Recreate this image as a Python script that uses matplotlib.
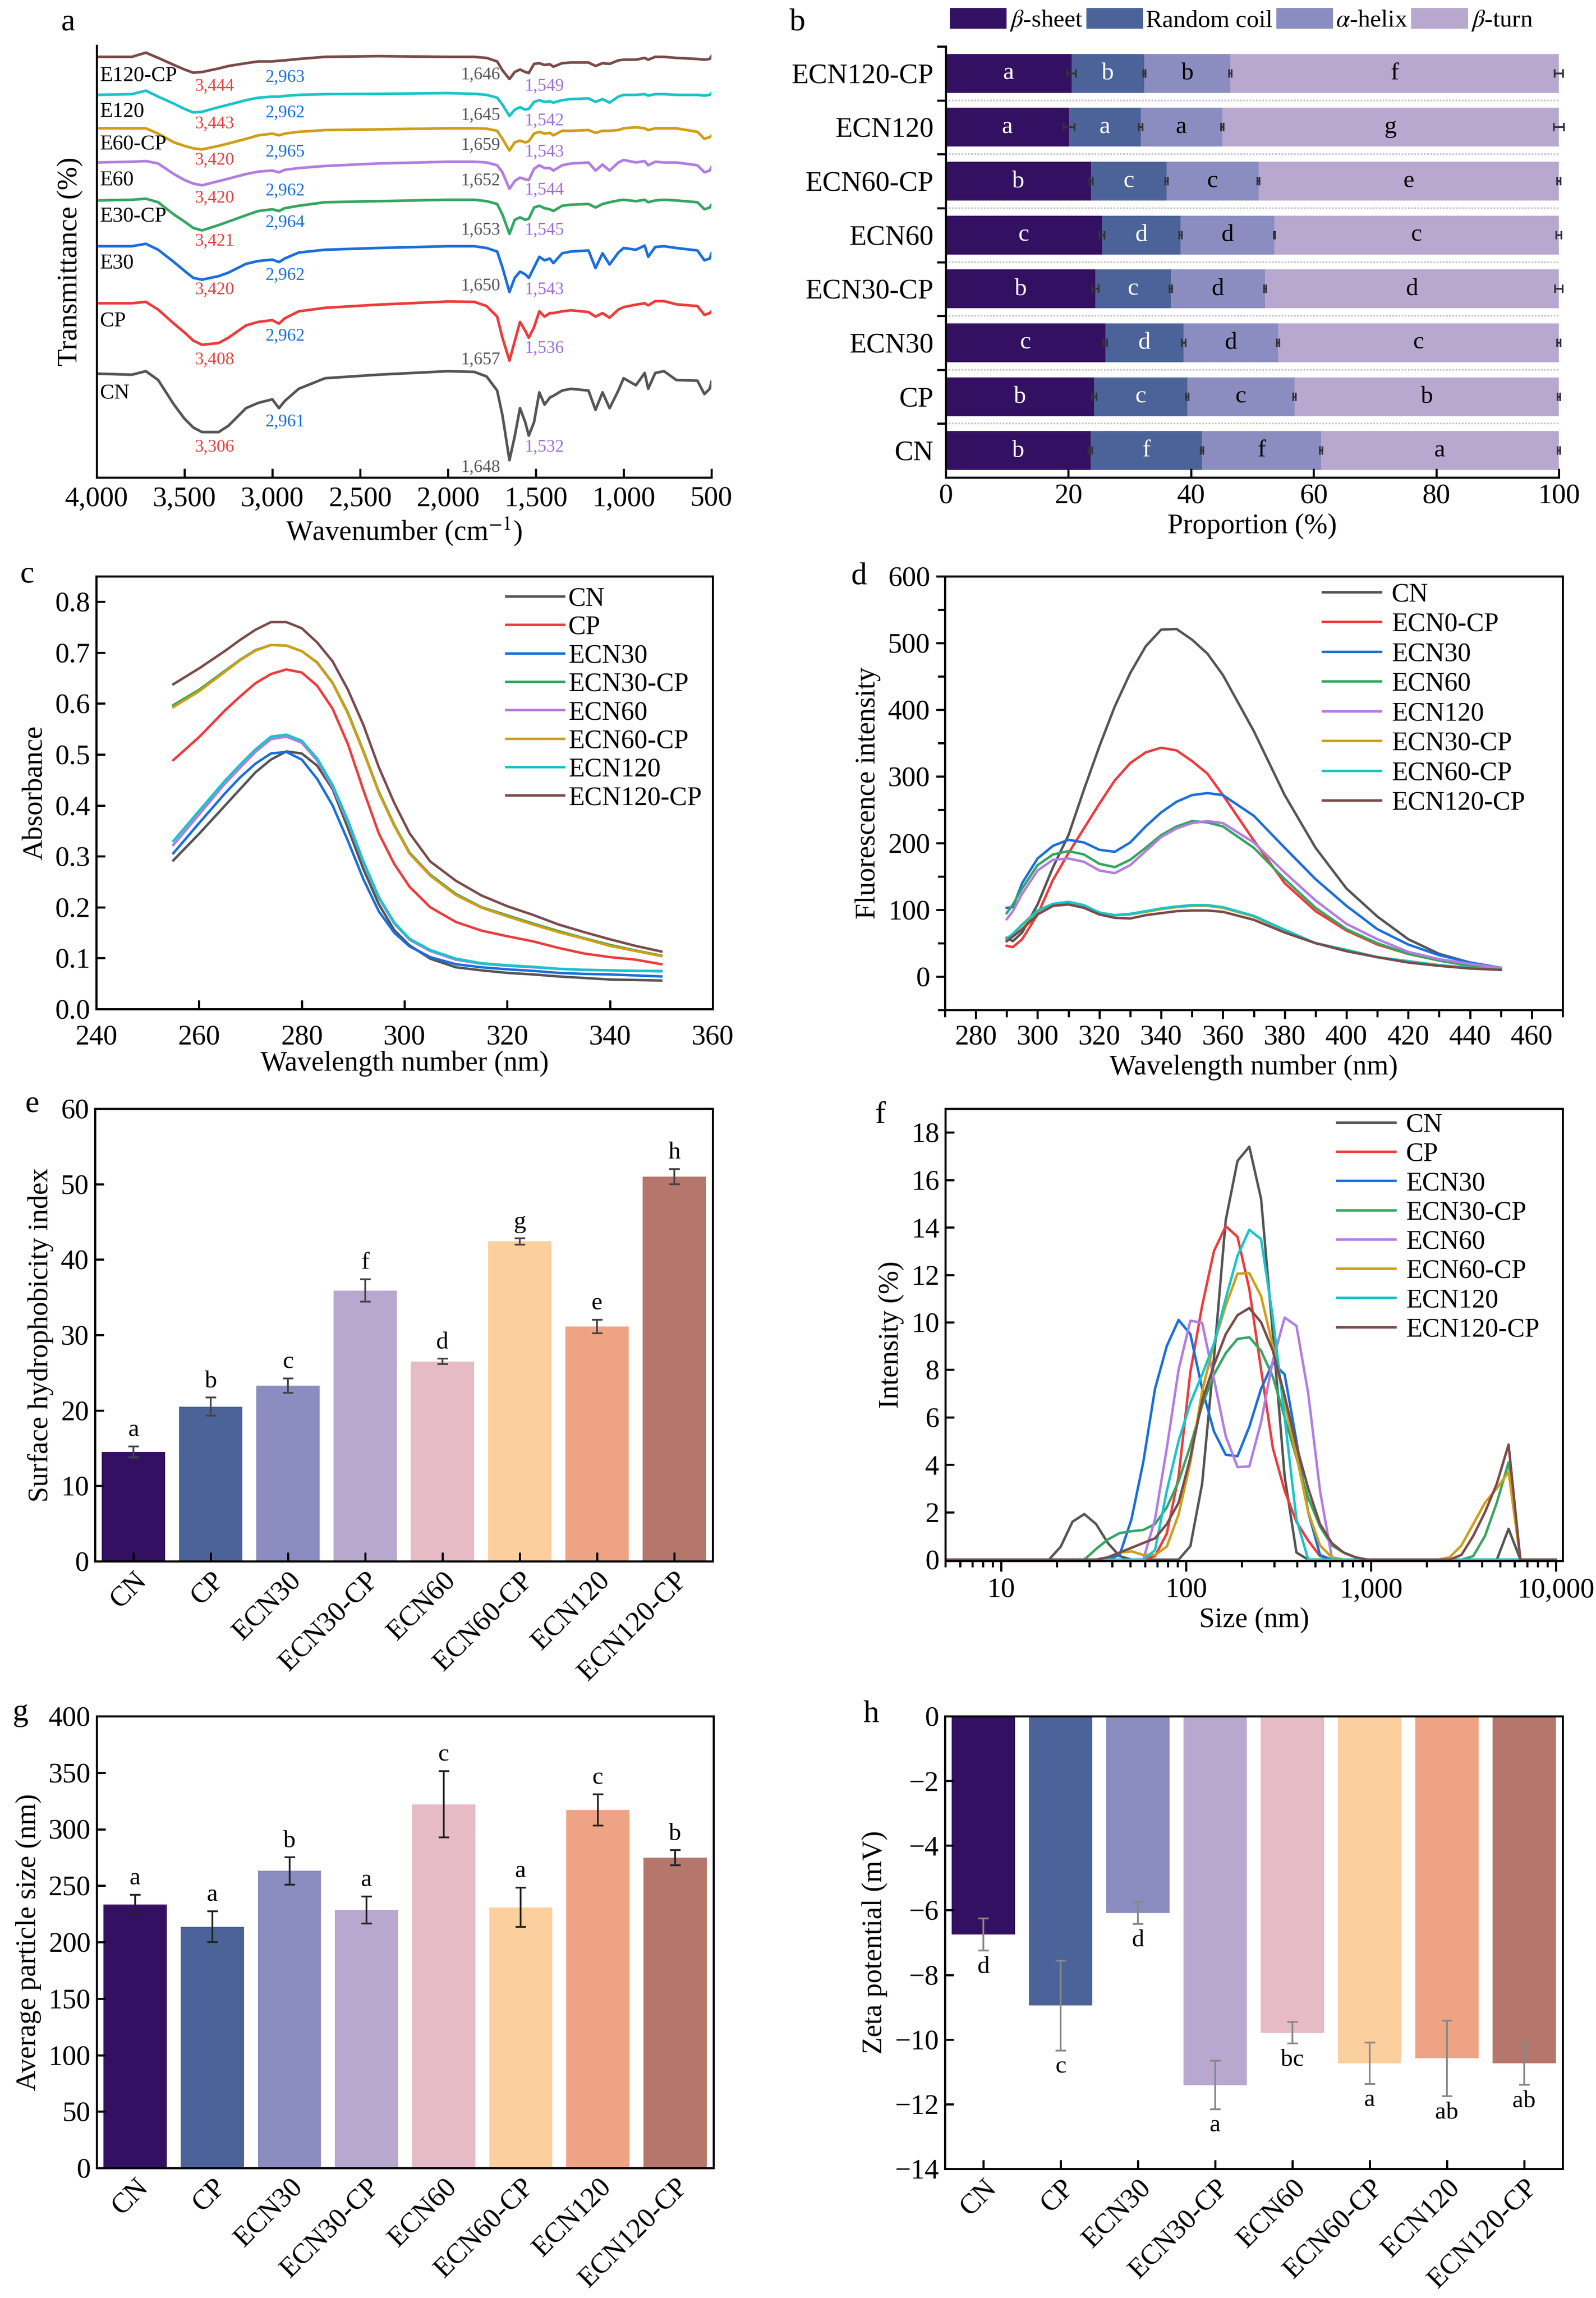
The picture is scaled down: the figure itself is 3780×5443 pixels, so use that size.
import numpy as np
import matplotlib
matplotlib.use("Agg")
import matplotlib.pyplot as plt
from matplotlib.patches import Patch
from matplotlib.ticker import MultipleLocator, FuncFormatter, LogLocator, NullFormatter

plt.rcParams['font.family'] = ['Liberation Serif', 'DejaVu Serif']
plt.rcParams['mathtext.fontset'] = 'stix'
plt.rcParams['font.size'] = 16
plt.rcParams['axes.linewidth'] = 1.2

# ---------------- data ----------------
samples = ['CN', 'CP', 'ECN30', 'ECN30-CP', 'ECN60', 'ECN60-CP', 'ECN120', 'ECN120-CP']

# (a) FTIR, read in picture units (distance from panel top), order CN .. E120-CP
ftir_names = ['CN', 'CP', 'E30', 'E30-CP', 'E60', 'E60-CP', 'E120', 'E120-CP']
ftir_wn = [4000, 3800, 3720, 3650, 3560, 3500, 3450, 3400, 3306, 3250,
           3150, 3080, 3000, 2962, 2930, 2850, 2700, 2400, 2000, 1850,
           1780, 1720, 1690, 1650, 1620, 1590, 1560, 1540, 1510, 1480,
           1450, 1420, 1400, 1350, 1300, 1200, 1160, 1120, 1080, 1030,
           1000, 930, 880, 860, 820, 770, 700, 580, 540, 510, 500]
ftir_cn = [1062, 1065, 1055, 1080, 1150, 1190, 1215, 1228, 1228, 1210,
           1160, 1145, 1135, 1160, 1140, 1105, 1075, 1065, 1055, 1057,
           1070, 1110, 1180, 1308, 1240, 1160, 1200, 1238, 1200, 1115,
           1150, 1130, 1125, 1110, 1105, 1110, 1165, 1115, 1160, 1110,
           1075, 1095, 1060, 1105, 1060, 1055, 1080, 1082, 1120, 1105, 1085]
ftir_cp = [862, 862, 858, 880, 920, 945, 968, 980, 975, 960,
           925, 915, 910, 920, 905, 885, 875, 866, 857, 858,
           870, 900, 960, 1025, 970, 915, 940, 960, 930, 885,
           900, 890, 890, 885, 882, 887, 900, 890, 903, 880,
           873, 866, 862, 868, 856, 856, 865, 870, 895, 890, 885]
ftir_e30 = [700, 700, 693, 710, 745, 770, 790, 795, 785, 775,
            750, 742, 738, 745, 735, 718, 710, 705, 700, 700,
            705, 715, 760, 830, 790, 772, 780, 790, 760, 730,
            740, 735, 748, 720, 715, 712, 762, 720, 752, 718,
            705, 710, 698, 730, 702, 700, 705, 712, 740, 735, 720]
ftir_e30cp = [570, 568, 565, 575, 610, 630, 648, 655, 640, 630,
              612, 600, 595, 600, 592, 585, 575, 572, 568, 568,
              572, 580, 610, 665, 625, 618, 625, 622, 590, 585,
              592, 595, 600, 585, 582, 580, 590, 580, 575, 570,
              568, 572, 568, 575, 570, 568, 570, 575, 595, 590, 582]
ftir_e60 = [462, 460, 458, 465, 495, 512, 522, 527, 515, 508,
            495, 488, 485, 490, 483, 478, 472, 465, 460, 460,
            462, 470, 490, 537, 515, 505, 510, 512, 480, 470,
            478, 478, 485, 470, 465, 462, 485, 468, 485, 462,
            455, 462, 458, 470, 460, 462, 462, 470, 490, 485, 475]
ftir_e60cp = [365, 365, 365, 380, 405, 415, 422, 425, 415, 408,
              395, 385, 380, 385, 380, 375, 370, 368, 365, 365,
              366, 372, 395, 428, 405, 400, 405, 402, 380, 375,
              380, 378, 385, 372, 372, 370, 378, 372, 372, 370,
              365, 362, 365, 370, 365, 365, 365, 375, 395, 390, 385]
ftir_e120 = [270, 268, 258, 275, 295, 310, 320, 318, 305, 298,
             285, 278, 275, 275, 273, 270, 268, 267, 265, 267,
             270, 278, 298, 330, 312, 305, 312, 310, 290, 285,
             290, 288, 292, 285, 282, 280, 290, 282, 292, 275,
             270, 270, 268, 272, 268, 268, 270, 270, 272, 270, 265]
ftir_e120cp = [162, 162, 150, 165, 185, 198, 207, 205, 195, 188,
               180, 175, 175, 173, 172, 168, 162, 160, 162, 162,
               165, 175, 200, 225, 205, 198, 205, 208, 182, 180,
               185, 183, 190, 180, 178, 178, 188, 180, 182, 172,
               170, 170, 165, 170, 162, 162, 165, 168, 170, 168, 160]
oh_peaks = [3306, 3408, 3420, 3421, 3420, 3420, 3443, 3444]
ch_peaks = [2961, 2962, 2962, 2964, 2962, 2965, 2962, 2963]
am1_peaks = [1648, 1657, 1650, 1653, 1652, 1659, 1645, 1646]
am2_peaks = [1532, 1536, 1543, 1545, 1544, 1543, 1542, 1549]

# (b) secondary structure (%), order CN .. ECN120-CP
beta_sheet = [23.6, 24.2, 26.0, 24.4, 25.5, 23.7, 20.1, 20.5]
random_coil = [18.2, 15.2, 12.8, 12.3, 12.8, 12.3, 11.7, 11.9]
alpha_helix = [19.4, 17.5, 15.4, 15.4, 15.3, 15.0, 13.3, 14.0]
beta_turn = [38.8, 43.1, 45.8, 47.9, 46.4, 49.0, 54.9, 53.6]
beta_sheet_sd = [0.3, 0.4, 0.3, 0.5, 0.4, 0.3, 0.9, 0.7]
random_coil_sd = [0.2, 0.2, 0.3, 0.2, 0.2, 0.2, 0.3, 0.2]
alpha_helix_sd = [0.2, 0.2, 0.2, 0.2, 0.1, 0.2, 0.2, 0.2]
beta_turn_sd = [0.2, 0.2, 0.3, 0.6, 0.4, 0.3, 0.8, 0.7]
sheet_letters = ['b', 'b', 'c', 'b', 'c', 'b', 'a', 'a']
coil_letters = ['f', 'c', 'd', 'c', 'd', 'c', 'a', 'b']
helix_letters = ['f', 'c', 'd', 'd', 'd', 'c', 'a', 'b']
turn_letters = ['a', 'b', 'c', 'd', 'c', 'e', 'g', 'f']

# (c) UV absorbance
uv_wl = [255, 260, 265, 268, 271, 274, 277, 280, 283, 286, 289, 292, 295,
         298, 301, 305, 310, 315, 320, 325, 330, 335, 340, 345, 350]
uv_cn = [.292, .344, .399, .432, .465, .490, .506, .502, .478, .432, .355, .275, .206,
         .155, .125, .099, .082, .076, .071, .068, .064, .061, .058, .057, .056]
uv_cp = [.489, .534, .586, .614, .640, .658, .667, .661, .635, .590, .520, .430, .345,
         .285, .240, .200, .171, .154, .143, .133, .120, .109, .102, .097, .088]
uv_ecn30 = [.306, .365, .423, .455, .482, .502, .505, .490, .452, .400, .330, .255, .192,
            .150, .123, .102, .088, .082, .078, .075, .071, .069, .068, .066, .064]
uv_ecn30cp = [.597, .627, .664, .686, .705, .715, .714, .703, .681, .641, .582, .507, .427,
              .362, .307, .264, .226, .200, .184, .168, .153, .139, .126, .115, .105]
uv_ecn60 = [.322, .382, .442, .474, .505, .530, .535, .523, .488, .436, .366, .288, .218,
            .168, .136, .114, .097, .089, .085, .082, .079, .077, .076, .075, .075]
uv_ecn60cp = [.593, .624, .662, .685, .704, .715, .714, .703, .680, .640, .580, .505, .425,
              .360, .305, .262, .224, .199, .182, .166, .151, .138, .124, .114, .104]
uv_ecn120 = [.330, .389, .448, .480, .510, .535, .539, .527, .492, .440, .370, .290, .220,
             .170, .138, .116, .099, .090, .086, .083, .079, .077, .076, .075, .074]
uv_ecn120cp = [.638, .669, .703, .725, .745, .760, .760, .748, .720, .683, .627, .558, .475,
               .405, .345, .290, .252, .223, .202, .185, .166, .151, .137, .124, .113]

# (d) fluorescence
fl_wl = [290, 292, 295, 300, 305, 310, 315, 320, 325, 330, 335, 340, 345,
         350, 355, 360, 370, 380, 390, 400, 410, 420, 430, 440, 450]
fl_cn = [58, 53, 66, 108, 164, 212, 280, 345, 405, 455, 495, 520, 521,
         505, 484, 452, 368, 272, 193, 132, 90, 56, 34, 21, 13]
fl_cp = [46, 44, 56, 93, 145, 185, 222, 259, 294, 320, 336, 343, 339,
         323, 304, 272, 204, 140, 98, 69, 48, 34, 24, 16, 11]
fl_ecn30 = [103, 104, 140, 177, 196, 205, 201, 190, 187, 201, 225, 246, 262,
            272, 275, 272, 241, 193, 146, 106, 71, 48, 32, 21, 13]
fl_ecn60 = [95, 108, 132, 167, 183, 188, 183, 169, 164, 175, 193, 212, 225,
            233, 231, 225, 193, 146, 103, 71, 50, 34, 24, 16, 11]
fl_ecn120 = [86, 98, 124, 159, 175, 177, 172, 159, 155, 167, 188, 209, 222,
             230, 233, 230, 201, 156, 114, 79, 56, 37, 26, 19, 13]
fl_ecn30cp = [56, 63, 77, 98, 108, 111, 106, 95, 92, 93, 97, 101, 104,
              106, 106, 103, 90, 69, 50, 40, 29, 23, 17, 13, 11]
fl_ecn60cp = [57, 64, 78, 99, 109, 112, 107, 96, 92, 94, 98, 102, 105,
              107, 107, 104, 91, 70, 50, 40, 29, 23, 17, 13, 11]
fl_ecn120cp = [53, 60, 71, 93, 106, 108, 103, 93, 88, 87, 92, 95, 98,
               99, 99, 97, 85, 66, 50, 38, 29, 21, 16, 12, 10]

# (f) DLS size distribution
dls_bins = [4.187, 4.849, 5.615, 6.503, 7.531, 8.721, 10.10, 11.70, 13.54, 15.69,
            18.17, 21.04, 24.36, 28.21, 32.67, 37.84, 43.82, 50.75, 58.77, 68.06,
            78.82, 91.28, 105.7, 122.4, 141.8, 164.2, 190.1, 220.2, 255.0, 295.3,
            342.0, 396.1, 458.7, 531.2, 615.1, 712.4, 825.0, 955.4, 1106, 1281,
            1484, 1718, 1990, 2305, 2669, 3091, 3580, 4145, 4801, 5560,
            6439, 7456, 8635, 10000]
dls_cn = ([0] * 11 + [0.55, 1.6, 1.92, 1.5, 0.7, 0.15, 0, 0, 0, 0, 0]
          + [0.57, 3.2, 8.5, 14.3, 16.8, 17.4, 15.2, 9.5, 3.5, 0.3] + [0] * 17 + [1.3] + [0] * 4)
dls_cp = ([0] * 19 + [0.15, 1.1, 3.5, 7.9, 10.7, 13.0, 14.05, 13.6, 11.4, 8.0, 4.7, 2.9, 1.6, 0.8, 0.15]
          + [0] * 20)
dls_ecn30 = ([0] * 16 + [0.2, 1.7, 4.1, 7.2, 9.0, 10.1, 9.5, 7.2, 5.4, 4.42, 4.36, 5.6, 7.2, 8.3, 7.8,
                         5.0, 2.0, 0.2] + [0] * 20)
dls_ecn30cp = ([0] * 14 + [0.45, 0.85, 1.12, 1.2, 1.25, 1.5, 2.2, 3.3, 4.8, 6.5, 7.8, 8.7, 9.3, 9.37,
                           8.8, 7.7, 6.0, 4.3, 2.6, 1.4, 0.6, 0.3, 0.1]
               + [0] * 9 + [0.15, 1.0, 2.4, 4.1] + [0] * 4)
dls_ecn60 = ([0] * 19 + [1.7, 4.7, 8.0, 10.07, 9.98, 7.6, 5.2, 3.9, 3.93, 5.8, 8.4, 10.2, 9.85, 7.0,
                         2.9, 0.1] + [0] * 19)
dls_ecn60cp = ([0] * 15 + [0.1, 0.3, 0.35, 0.2, 0.2, 0.55, 1.9, 4.1, 7.1, 9.1, 10.7, 12.05, 12.07,
                           11.1, 9.0, 6.6, 4.4, 2.0, 0.6, 0.1]
               + [0] * 9 + [0.1, 0.6, 1.5, 2.4, 3.0, 3.7] + [0] * 4)
dls_ecn120 = ([0] * 19 + [0.4, 2.9, 5.0, 6.6, 7.8, 9.1, 11.0, 12.8, 13.9, 13.5, 10.2, 6.0, 1.7]
              + [0] * 22)
dls_ecn120cp = ([0] * 15 + [0.1, 0.3, 0.5, 0.7, 0.9, 1.5, 2.4, 4.3, 6.7, 8.2, 9.5, 10.3, 10.6, 10.0,
                            8.8, 6.9, 4.8, 3.0, 1.5, 0.7, 0.3, 0.1]
                + [0] * 8 + [0.2, 1.0, 2.0, 3.2, 4.85] + [0] * 4)

# (e) surface hydrophobicity
shi = [14.5, 20.5, 23.3, 35.9, 26.5, 42.4, 31.1, 51.0]
shi_sd = [0.75, 1.2, 0.95, 1.5, 0.35, 0.4, 0.9, 1.0]
shi_letters = ['a', 'b', 'c', 'f', 'd', 'g', 'e', 'h']

# (g) average particle size
size_nm = [233.3, 213.6, 263.0, 228.3, 322.0, 230.8, 317.0, 274.8]
size_sd = [8.4, 13.6, 12.0, 12.0, 29.3, 17.5, 14.0, 6.6]
size_letters = ['a', 'a', 'b', 'a', 'c', 'a', 'c', 'b']

# (h) zeta potential
zeta = [-6.75, -8.95, -6.08, -11.41, -9.79, -10.73, -10.58, -10.74]
zeta_sd = [0.5, 1.39, 0.34, 0.75, 0.33, 0.64, 1.17, 0.66]
zeta_letters = ['d', 'c', 'd', 'a', 'bc', 'a', 'ab', 'ab']

# ---------------- styles ----------------
# one colour per legend position (same order in every line panel)
line_order_colors = ['#555555', '#ee3b3b', '#1a6fdc', '#35a661', '#b27de3', '#d09e16', '#19c4c9',
                     '#7a4b4b']
bar_colors = ['#341062', '#4c6399', '#8b8cbf', '#b8a8cf', '#e7bbc6', '#fccf9f', '#eea484', '#b5766c']
struct_colors = bar_colors[:4]

W, H = 3780, 5443
fig = plt.figure(figsize=(W / 300, H / 300), dpi=300)


def add_axes(l, r, t, b):
    return fig.add_axes([l / W, 1 - b / H, (r - l) / W, (b - t) / H])


def panel_letter(x, y, s):
    fig.text(x / W, 1 - y / H, s, fontsize=18, va='baseline', ha='left')


def to_T(v):
    # picture units -> offset transmittance
    return 140 - np.asarray(v, dtype=float) / 10


comma = FuncFormatter(lambda v, p: f"{v:,.0f}")

# ---------------- (a) FTIR ----------------
ax = add_axes(229, 1685, 108, 1131)
ftir_vals = [ftir_cn, ftir_cp, ftir_e30, ftir_e30cp, ftir_e60, ftir_e60cp, ftir_e120, ftir_e120cp]
for col, vals in zip(line_order_colors, ftir_vals):
    ax.plot(ftir_wn, to_T(vals), color=col, lw=1.5)
ax.set_xlim(4000, 500)
ax.set_ylim(4.3, 127)
ax.spines[['top', 'right']].set_visible(False)
ax.set_yticks([])
ax.set_xticks(range(4000, 499, -500))
ax.xaxis.set_major_formatter(comma)
ax.tick_params(axis='x', direction='in', length=5, width=1.2, labelsize=16, pad=5)
ax.set_xlabel('Wavenumber (cm$^{-1}$)', fontsize=16, labelpad=2)
ax.set_ylabel('Transmittance (%)', fontsize=16, labelpad=8)

name_y = [1118, 912, 748, 615, 512, 410, 318, 215]
oh_y = [1270, 1022, 823, 685, 563, 455, 352, 245]
ch_y = [1198, 955, 782, 632, 542, 432, 320, 220]
am1_y = [1328, 1022, 812, 654, 514, 413, 328, 212]
am2_y = [1270, 990, 823, 654, 540, 432, 343, 245]
for i, n in enumerate(ftir_names):
    ax.text(3981, to_T(name_y[i]), n, fontsize=12, ha='left', va='center')
    ax.text(3441, to_T(oh_y[i]), f"{oh_peaks[i]:,}", fontsize=10, color='#e84040', ha='left', va='center')
    ax.text(3040, to_T(ch_y[i]), f"{ch_peaks[i]:,}", fontsize=10, color='#1a6fdc', ha='left', va='center')
    ax.text(1703, to_T(am1_y[i]), f"{am1_peaks[i]:,}", fontsize=10, color='#555555', ha='right', va='center')
    ax.text(1565, to_T(am2_y[i]), f"{am2_peaks[i]:,}", fontsize=10, color='#a070d8', ha='left', va='center')
panel_letter(144, 71, 'a')

# ---------------- (b) secondary structure ----------------
axb = add_axes(2240, 3692, 110, 1131)
yy = np.arange(len(samples))
left = np.zeros(len(samples))
parts = [(beta_sheet, beta_sheet_sd, sheet_letters, 'white'),
         (random_coil, random_coil_sd, coil_letters, 'white'),
         (alpha_helix, alpha_helix_sd, helix_letters, 'black'),
         (beta_turn, beta_turn_sd, turn_letters, 'black')]
for (vals, sds, lets, tcol), col in zip(parts, struct_colors):
    vals = np.asarray(vals)
    axb.barh(yy, vals, left=left, height=0.72, color=col)
    right = left + vals
    axb.errorbar(right, yy, xerr=sds, fmt='none', ecolor='#333333', elinewidth=1.0,
                 capsize=2.5, capthick=1.0, clip_on=False)
    for yi in yy:
        axb.text(left[yi] + vals[yi] / 2, yi, lets[yi], ha='center', va='center',
                 color=tcol, fontsize=14)
    left = right
for k in range(len(samples) - 1):
    axb.axhline(k + 0.5, color='#c0c0c0', ls=(0, (1, 1)), lw=0.9, zorder=0)
axb.set_xlim(0, 100)
axb.set_ylim(-0.5, len(samples) - 0.5)
axb.set_yticks(yy)
axb.set_yticklabels(samples)
axb.set_yticks(np.arange(0.5, len(samples), 1), minor=True)
axb.tick_params(axis='y', which='major', length=0, pad=7, labelsize=16)
axb.tick_params(axis='y', which='minor', direction='out', length=5, width=1.2)
axb.xaxis.set_major_locator(MultipleLocator(20))
axb.tick_params(axis='x', direction='in', length=5, width=1.2, labelsize=16)
axb.spines[['top', 'right']].set_visible(False)
axb.set_xlabel('Proportion (%)', fontsize=16, labelpad=2)
handles = [Patch(facecolor=c) for c in struct_colors]
fig.legend(handles, [r'$\beta$-sheet', 'Random coil', r'$\alpha$-helix', r'$\beta$-turn'],
           loc='center left', bbox_to_anchor=(2250 / W, 1 - 48 / H), ncol=4, frameon=False,
           fontsize=14, handlelength=2.3, handleheight=0.93, handletextpad=0.12,
           columnspacing=0.15, borderpad=0, borderaxespad=0)
panel_letter(1870, 71, 'b')

# ---------------- (c) UV ----------------
axc = add_axes(228, 1688, 1365, 2390)
uv_vals = [uv_cn, uv_cp, uv_ecn30, uv_ecn30cp, uv_ecn60, uv_ecn60cp, uv_ecn120, uv_ecn120cp]
for s, col, vals in zip(samples, line_order_colors, uv_vals):
    axc.plot(uv_wl, vals, color=col, lw=1.4, label=s)
axc.set_xlim(240, 360)
axc.set_ylim(0, 0.85)
axc.xaxis.set_major_locator(MultipleLocator(20))
axc.yaxis.set_major_locator(MultipleLocator(0.1))
axc.yaxis.set_major_formatter(FuncFormatter(lambda v, p: f"{v:.1f}"))
axc.tick_params(direction='in', length=5, width=1.2, labelsize=16)
axc.tick_params(axis='x', pad=9)
axc.set_xlabel('Wavelength number (nm)', fontsize=16, labelpad=0)
axc.set_ylabel('Absorbance', fontsize=16)
axc.legend(loc='upper left', bbox_to_anchor=(0.665, 0.975), frameon=False, fontsize=15,
           handlelength=2.2, handletextpad=0.15, labelspacing=0.15, borderpad=0, borderaxespad=0)
panel_letter(47, 1379, 'c')

# ---------------- (d) fluorescence ----------------
axd = add_axes(2238, 3701, 1365, 2392)
fl_names = ['CN', 'ECN0-CP', 'ECN30', 'ECN60', 'ECN120', 'ECN30-CP', 'ECN60-CP', 'ECN120-CP']
fl_vals = [fl_cn, fl_cp, fl_ecn30, fl_ecn60, fl_ecn120, fl_ecn30cp, fl_ecn60cp, fl_ecn120cp]
for n, col, vals in zip(fl_names, line_order_colors, fl_vals):
    axd.plot(fl_wl, vals, color=col, lw=1.4, label=n)
axd.set_xlim(270, 470)
axd.set_ylim(-50, 600)
axd.xaxis.set_major_locator(MultipleLocator(20))
axd.xaxis.set_minor_locator(MultipleLocator(10))
axd.yaxis.set_major_locator(MultipleLocator(100))
axd.yaxis.set_minor_locator(MultipleLocator(50))
axd.tick_params(which='both', direction='out', width=1.2, labelsize=16)
axd.tick_params(which='major', length=5)
axd.tick_params(which='minor', length=4)
axd.set_xlabel('Wavelength number (nm)', fontsize=16, labelpad=2)
axd.set_ylabel('Fluorescence intensity', fontsize=16)
axd.legend(loc='upper left', bbox_to_anchor=(0.612, 0.985), frameon=False, fontsize=15,
           handlelength=2.2, handletextpad=0.4, labelspacing=0.2, borderpad=0, borderaxespad=0)
panel_letter(2015, 1383, 'd')


# ---------------- bar helper ----------------
def bar_panel(a, vals, sds, letters, ecol, below=False):
    x = np.arange(len(samples))
    a.bar(x, vals, width=0.82, color=bar_colors, yerr=sds, capsize=3,
          error_kw=dict(ecolor=ecol, elinewidth=1.0, capthick=1.0))
    for xi, v, s, l in zip(x, vals, sds, letters):
        if below:
            a.annotate(l, (xi, v - s), xytext=(0, -3), textcoords='offset points',
                       ha='center', va='top', fontsize=14)
        else:
            a.annotate(l, (xi, v + s), xytext=(0, 3), textcoords='offset points',
                       ha='center', va='bottom', fontsize=14)
    a.set_xlim(-0.5, len(samples) - 0.5)
    a.set_xticks(x)
    a.set_xticklabels(samples, rotation=45, ha='right', rotation_mode='anchor')
    a.tick_params(direction='in', length=5, width=1.2, labelsize=16)


# ---------------- (e) hydrophobicity ----------------
axe = add_axes(225, 1688, 2626, 3698)
bar_panel(axe, shi, shi_sd, shi_letters, '#444444')
axe.set_ylim(0, 60)
axe.yaxis.set_major_locator(MultipleLocator(10))
axe.set_ylabel('Surface hydrophobicity index', fontsize=16)
panel_letter(59, 2634, 'e')

# ---------------- (f) DLS ----------------
axf = add_axes(2239, 3701, 2626, 3697)
dls_vals = [dls_cn, dls_cp, dls_ecn30, dls_ecn30cp, dls_ecn60, dls_ecn60cp, dls_ecn120, dls_ecn120cp]
for s, col, vals in zip(samples, line_order_colors, dls_vals):
    axf.plot(dls_bins, vals, color=col, lw=1.4, label=s)
axf.set_xscale('log')
axf.set_xlim(5, 10900)
axf.set_ylim(-0.05, 19)
axf.xaxis.set_major_locator(LogLocator(base=10, numticks=10))
axf.xaxis.set_minor_locator(LogLocator(base=10, subs=np.arange(2, 10), numticks=20))
axf.xaxis.set_major_formatter(comma)
axf.xaxis.set_minor_formatter(NullFormatter())
axf.yaxis.set_major_locator(MultipleLocator(2))
axf.tick_params(axis='x', which='both', direction='out', width=1.2, labelsize=16)
axf.tick_params(axis='x', which='major', length=6)
axf.tick_params(axis='x', which='minor', length=3.5)
axf.tick_params(axis='y', direction='in', length=5, width=1.2, labelsize=16)
axf.set_xlabel('Size (nm)', fontsize=16, labelpad=2)
axf.set_ylabel('Intensity (%)', fontsize=16)
axf.legend(loc='upper left', bbox_to_anchor=(0.635, 0.99), frameon=False, fontsize=15,
           handlelength=2.2, handletextpad=0.4, labelspacing=0.18, borderpad=0, borderaxespad=0)
panel_letter(2073, 2660, 'f')

# ---------------- (g) particle size ----------------
axg = add_axes(229, 1690, 4065, 5135)
bar_panel(axg, size_nm, size_sd, size_letters, '#222222')
axg.set_ylim(0, 400)
axg.yaxis.set_major_locator(MultipleLocator(50))
axg.tick_params(axis='x', length=0)
axg.set_ylabel('Average particle size (nm)', fontsize=16)
panel_letter(30, 4075, 'g')

# ---------------- (h) zeta potential ----------------
axh = add_axes(2238, 3701, 4065, 5137)
bar_panel(axh, zeta, zeta_sd, zeta_letters, '#888888', below=True)
axh.set_ylim(-14, 0)
axh.yaxis.set_major_locator(MultipleLocator(2))
axh.set_ylabel('Zeta potential (mV)', fontsize=16)
panel_letter(2044, 4079, 'h')

fig.savefig('out.png', dpi=300)
